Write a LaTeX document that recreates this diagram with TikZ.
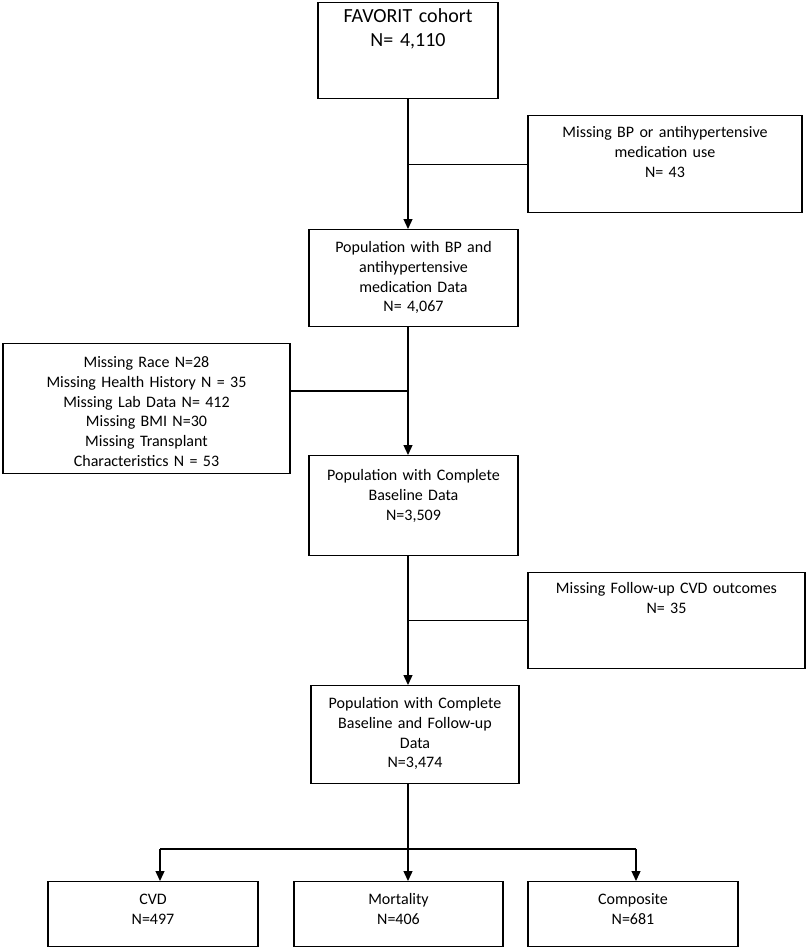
\documentclass[tikz,border=0pt]{standalone}
\usepackage{fontspec}
\setmainfont{Carlito}
\usetikzlibrary{arrows.meta}

\begin{document}
\begin{tikzpicture}[x=1pt,y=-1pt,
  line width=1.3pt,
  box/.style={draw, anchor=north, align=center, inner xsep=0pt, inner ysep=0pt,
    font=\fontsize{16}{19.7}\selectfont},
  arr/.style={-{Triangle[length=10pt,width=9pt]}}]
\useasboundingbox (0,0) rectangle (807,947);

% Main flow boxes
\node[box, text width=180pt, text height=19.5pt, text depth=76.5pt,
  font=\fontsize{20}{24}\selectfont] (cohort) at (408,2) {FAVORIT cohort\\N= 4,110};
\node[box, text width=209pt, text height=23pt, text depth=74pt] (bp) at (413.5,229)
  {Population with BP and\\antihypertensive\\medication Data\\N= 4,067};
\node[box, text width=209pt, text height=25pt, text depth=75pt] (base) at (413.5,455)
  {Population with Complete\\Baseline Data\\N=3,509};
\node[box, text width=208pt, text height=23pt, text depth=75pt] (basefu) at (415,685)
  {Population with Complete\\Baseline and Follow-up\\Data\\N=3,474};

% Exclusions
\node[box, text width=274pt, text height=22pt, text depth=75pt] (missbp) at (665,115)
  {Missing BP or antihypertensive\\medication use\\N= 43};
\node[box, text width=287pt, text height=24pt, text depth=106pt] (missrace) at (146.5,343)
  {Missing Race N=28\\Missing Health History N = 35\\Missing Lab Data N= 412\\Missing BMI N=30\\Missing Transplant\\Characteristics N = 53};
\node[box, text width=277pt, text height=21pt, text depth=75pt] (missfu) at (666.5,572)
  {Missing Follow-up CVD outcomes\\N= 35};

% Outcomes
\node[box, text width=210pt, text height=23pt, text depth=42pt] (cvd) at (153,881) {CVD\\N=497};
\node[box, text width=209pt, text height=23pt, text depth=42pt] (mort) at (398.5,881) {Mortality\\N=406};
\node[box, text width=210pt, text height=23pt, text depth=42pt] (comp) at (633,881) {Composite\\N=681};

% Arrows down the middle
\draw[arr] (cohort.south) -- (cohort.south |- bp.north);
\draw[arr] (cohort.south |- bp.south) -- (cohort.south |- base.north);
\draw[arr] (cohort.south |- base.south) -- (cohort.south |- basefu.north);
\draw[arr] (cohort.south |- basefu.south) -- (cohort.south |- mort.north);

% Side branches
\coordinate (j2) at (408,391);
\draw (missbp.west) -- (missbp.west -| cohort.south);
\draw (j2) -- (j2 -| missrace.east);
\draw (missfu.west) -- (missfu.west -| cohort.south);

% Split to outcomes
\coordinate (bl) at (160,849);
\coordinate (br) at (636,849);
\draw (bl) -- (br);
\draw[arr] (bl) -- (bl |- cvd.north);
\draw[arr] (br) -- (br |- comp.north);

\end{tikzpicture}
\end{document}
